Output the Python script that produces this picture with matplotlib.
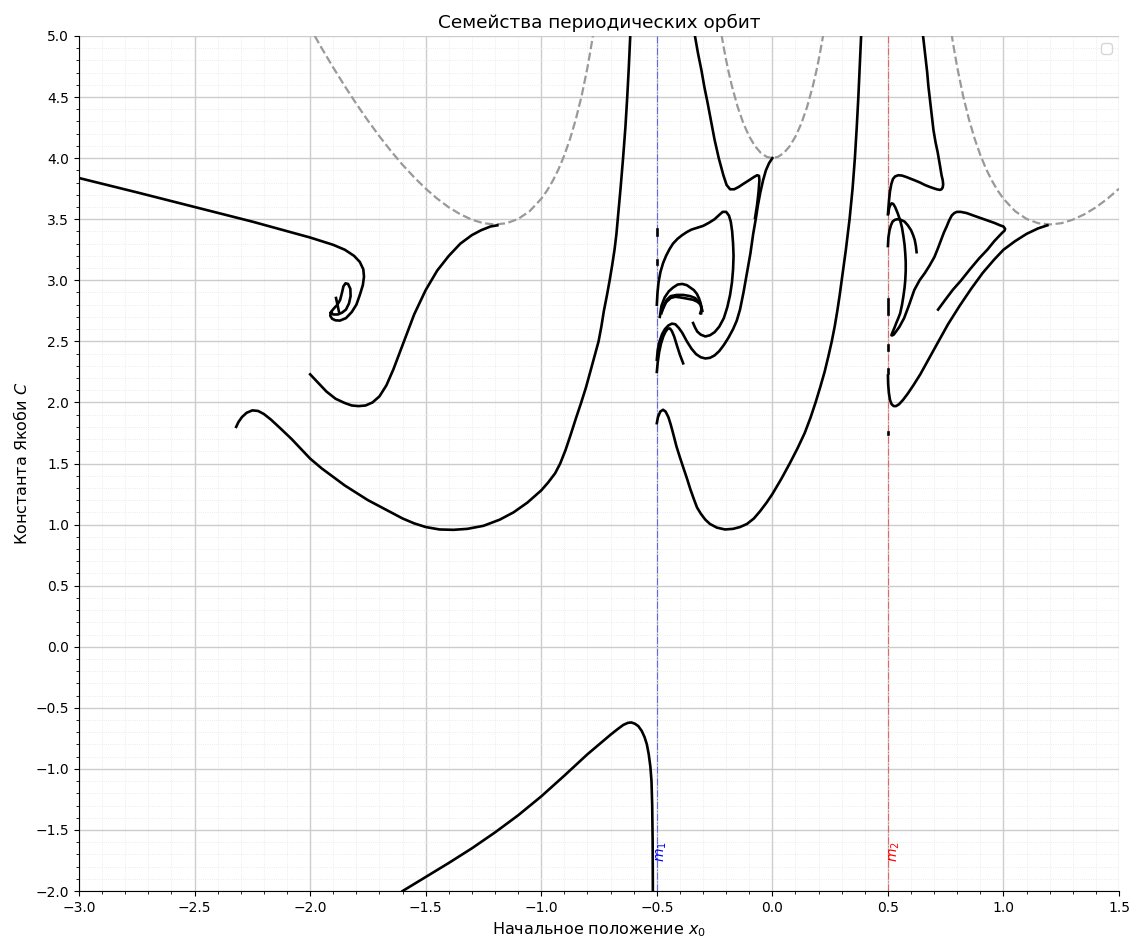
import matplotlib
matplotlib.use("Agg")
import matplotlib.pyplot as plt
from matplotlib.ticker import MultipleLocator

# zero-velocity curve branches
ZV_LEFT_X = [-1.98, -1.95, -1.9, -1.85, -1.8, -1.75, -1.7, -1.65, -1.6, -1.55, -1.5, -1.45, -1.4, -1.35,
             -1.3, -1.25, -1.2, -1.15, -1.1, -1.05, -1.0, -0.975, -0.95, -0.925, -0.9, -0.875, -0.85,
             -0.825, -0.8, -0.79, -0.78, -0.775]
ZV_LEFT_C = [5.0, 4.90, 4.741, 4.589, 4.444, 4.307, 4.178, 4.057, 3.945, 3.843, 3.75, 3.668, 3.597, 3.540,
             3.496, 3.467, 3.457, 3.467, 3.502, 3.566, 3.667, 3.734, 3.815, 3.910, 4.024, 4.160, 4.321,
             4.512, 4.742, 4.848, 4.961, 5.021]
ZV_MID_X = [-0.22, -0.21, -0.2, -0.19, -0.175, -0.15, -0.125, -0.1, -0.075, -0.05, -0.025, 0.0,
            0.025, 0.05, 0.075, 0.1, 0.125, 0.15, 0.175, 0.19, 0.2, 0.21, 0.22]
ZV_MID_C = [5.009, 4.901, 4.802, 4.711, 4.589, 4.418, 4.282, 4.177, 4.098, 4.043, 4.011, 4.0,
            4.011, 4.043, 4.098, 4.177, 4.282, 4.418, 4.589, 4.711, 4.802, 4.901, 5.009]
ZV_RIGHT_X = [0.775, 0.78, 0.79, 0.8, 0.825, 0.85, 0.875, 0.9, 0.925, 0.95, 0.975, 1.0, 1.05, 1.1, 1.15,
              1.2, 1.25, 1.3, 1.35, 1.4, 1.45, 1.5]
ZV_RIGHT_C = [5.021, 4.961, 4.848, 4.742, 4.512, 4.321, 4.160, 4.024, 3.910, 3.815, 3.734, 3.667, 3.566,
              3.502, 3.467, 3.457, 3.467, 3.496, 3.540, 3.597, 3.668, 3.75]

# orbit families: (x0 list, C list)
FAM_SPIRAL_X = [-3.0, -2.75, -2.5, -2.25, -2.0, -1.9, -1.85, -1.81, -1.785, -1.77, -1.767, -1.772, -1.785,
                -1.8, -1.82, -1.845, -1.871, -1.89, -1.905, -1.913, -1.91, -1.897, -1.882, -1.87, -1.862,
                -1.856, -1.847, -1.836, -1.826, -1.825, -1.832, -1.845, -1.862, -1.88, -1.9, -1.91]
FAM_SPIRAL_C = [3.837, 3.72, 3.60, 3.48, 3.35, 3.29, 3.25, 3.20, 3.15, 3.09, 3.03, 2.96, 2.88,
                2.80, 2.74, 2.69, 2.67, 2.672, 2.685, 2.71, 2.74, 2.77, 2.80, 2.84, 2.90,
                2.95, 2.975, 2.97, 2.93, 2.87, 2.81, 2.76, 2.735, 2.72, 2.72, 2.735]
FAM_TICK_X = [-1.888, -1.875]
FAM_TICK_C = [2.855, 2.74]

FAM_L1_X = [-2.0, -1.97, -1.93, -1.89, -1.85, -1.82, -1.79, -1.76, -1.73, -1.7, -1.67, -1.64, -1.6, -1.55,
            -1.5, -1.45, -1.4, -1.35, -1.3, -1.26, -1.22, -1.19]
FAM_L1_C = [2.23, 2.17, 2.09, 2.03, 1.995, 1.975, 1.97, 1.975, 2.0, 2.05, 2.14, 2.27, 2.47, 2.72,
            2.92, 3.08, 3.2, 3.3, 3.37, 3.41, 3.44, 3.45]

FAM_U_X = [-2.32, -2.31, -2.295, -2.275, -2.25, -2.225, -2.2, -2.17, -2.13, -2.08, -2.03, -2.0, -1.95, -1.9,
           -1.85, -1.8, -1.75, -1.7, -1.65, -1.6, -1.55, -1.5, -1.44, -1.38, -1.32, -1.25, -1.18, -1.12,
           -1.06, -1.0, -0.97, -0.94, -0.918, -0.895, -0.872, -0.85, -0.827, -0.807, -0.788, -0.77, -0.752,
           -0.74, -0.729, -0.716, -0.704, -0.693, -0.683, -0.675, -0.669, -0.657, -0.646, -0.636, -0.628,
           -0.621, -0.615, -0.612]
FAM_U_C = [1.80, 1.84, 1.88, 1.915, 1.935, 1.93, 1.905, 1.86, 1.79, 1.70, 1.6, 1.54, 1.46, 1.39,
           1.32, 1.26, 1.2, 1.15, 1.1, 1.05, 1.01, 0.98, 0.96, 0.957, 0.965, 0.99, 1.04, 1.1,
           1.18, 1.28, 1.345, 1.42, 1.5, 1.61, 1.74, 1.87, 2.0, 2.12, 2.25, 2.375, 2.5,
           2.62, 2.75, 2.875, 3.0, 3.125, 3.25, 3.375, 3.5, 3.75, 4.0, 4.25, 4.5,
           4.75, 5.0, 5.1]

FAM_LOW_X = [-1.6, -1.5, -1.4, -1.3, -1.2, -1.1, -1.0, -0.9, -0.8, -0.75, -0.7, -0.67, -0.645, -0.625,
             -0.61, -0.595, -0.58, -0.565, -0.553, -0.543, -0.535, -0.528, -0.523, -0.52, -0.518, -0.517]
FAM_LOW_C = [-2.0, -1.885, -1.77, -1.65, -1.52, -1.38, -1.225, -1.055, -0.88, -0.8, -0.72, -0.675, -0.64,
             -0.623, -0.62, -0.63, -0.65, -0.69, -0.74, -0.8, -0.88, -0.98, -1.1, -1.3, -1.6, -2.05]

FAM_F_X = [-0.5, -0.495, -0.485, -0.473, -0.462, -0.45, -0.44, -0.43, -0.415, -0.4, -0.386, -0.37, -0.355,
           -0.34, -0.326, -0.31, -0.29, -0.27, -0.24, -0.205, -0.17, -0.14, -0.11, -0.08, -0.053, -0.025,
           0.0, 0.039, 0.075, 0.109, 0.14, 0.165, 0.187, 0.207, 0.226, 0.242, 0.257, 0.27, 0.281, 0.291,
           0.30, 0.318, 0.334, 0.347, 0.357, 0.365, 0.372, 0.378, 0.384, 0.386]
FAM_F_C = [1.83, 1.88, 1.925, 1.94, 1.925, 1.88, 1.82, 1.75, 1.64, 1.55, 1.47, 1.38, 1.29,
           1.21, 1.14, 1.09, 1.04, 1.005, 0.975, 0.96, 0.965, 0.98, 1.005, 1.05, 1.11, 1.18,
           1.25, 1.375, 1.5, 1.625, 1.75, 1.875, 2.0, 2.125, 2.25, 2.375, 2.5, 2.625, 2.75, 2.875,
           3.0, 3.25, 3.5, 3.75, 4.0, 4.25, 4.5, 4.75, 5.0, 5.1]

FAM_TOP_X = [-0.337, -0.335, -0.322, -0.307, -0.294, -0.28, -0.265, -0.25, -0.232, -0.212, -0.198, -0.183,
             -0.165, -0.145, -0.125, -0.1, -0.08, -0.066, -0.058, -0.056, -0.06, -0.066, -0.075]
FAM_TOP_C = [5.1, 5.0, 4.86, 4.72, 4.58, 4.45, 4.3, 4.15, 4.0, 3.86, 3.78, 3.745,
             3.745, 3.765, 3.79, 3.82, 3.845, 3.86, 3.855, 3.82, 3.72, 3.62, 3.51]

FAM_A_X = [-0.5, -0.497, -0.492, -0.484, -0.473, -0.46, -0.445, -0.43, -0.41, -0.39, -0.37, -0.35, -0.325,
           -0.3, -0.275, -0.25, -0.23, -0.215, -0.2, -0.188, -0.18, -0.174, -0.17, -0.168, -0.17, -0.175,
           -0.183, -0.195, -0.21, -0.23, -0.25, -0.27, -0.29, -0.31, -0.325, -0.335, -0.343]
FAM_A_C = [2.8, 2.9, 2.99, 3.07, 3.14, 3.2, 3.255, 3.3, 3.34, 3.37, 3.395, 3.415, 3.43,
           3.445, 3.47, 3.5, 3.535, 3.56, 3.56, 3.53, 3.48, 3.4, 3.3, 3.2, 3.09, 2.98,
           2.88, 2.78, 2.69, 2.62, 2.575, 2.55, 2.54, 2.555, 2.58, 2.615, 2.65]

FAM_B_X = [-0.5, -0.496, -0.488, -0.477, -0.465, -0.45, -0.435, -0.42, -0.405, -0.39, -0.37, -0.35, -0.33,
           -0.31, -0.29, -0.27, -0.25, -0.23, -0.21, -0.19, -0.17, -0.154, -0.14, -0.125, -0.11, -0.095,
           -0.083, -0.072, -0.062, -0.052, -0.04, -0.028, -0.014, 0.0]
FAM_B_C = [2.35, 2.43, 2.5, 2.56, 2.6, 2.63, 2.645, 2.64, 2.61, 2.57, 2.5, 2.44, 2.395,
           2.37, 2.36, 2.365, 2.385, 2.42, 2.47, 2.53, 2.6, 2.67, 2.76, 2.9, 3.06, 3.22,
           3.38, 3.5, 3.62, 3.72, 3.82, 3.9, 3.96, 4.0]

FAM_C_X = [-0.5, -0.496, -0.49, -0.482, -0.472, -0.462, -0.452, -0.443, -0.435, -0.425, -0.412, -0.4, -0.386]
FAM_C_C = [2.25, 2.33, 2.41, 2.48, 2.54, 2.58, 2.605, 2.605, 2.585, 2.54, 2.46, 2.39, 2.32]

ARCH1_X = [-0.487, -0.48, -0.466, -0.448, -0.43, -0.41, -0.39, -0.37, -0.355, -0.34, -0.327, -0.317, -0.31,
           -0.307, -0.312]
ARCH1_C = [2.70, 2.79, 2.86, 2.91, 2.94, 2.965, 2.97, 2.96, 2.94, 2.92, 2.89, 2.85, 2.81, 2.76, 2.73]
ARCH2_X = [-0.48, -0.47, -0.457, -0.44, -0.414, -0.385, -0.355, -0.335, -0.32, -0.31, -0.305, -0.308]
ARCH2_C = [2.73, 2.79, 2.84, 2.87, 2.88, 2.88, 2.87, 2.855, 2.83, 2.8, 2.76, 2.73]
ARCH3_X = [-0.475, -0.46, -0.44, -0.42, -0.40, -0.37, -0.343, -0.325, -0.31, -0.303]
ARCH3_C = [2.76, 2.82, 2.855, 2.865, 2.86, 2.85, 2.84, 2.825, 2.80, 2.75]

FAM_G_X = [0.652, 0.658, 0.664, 0.67, 0.675, 0.686, 0.697, 0.706, 0.715, 0.726, 0.732, 0.737, 0.739, 0.737,
           0.732, 0.725, 0.711, 0.695, 0.68, 0.66, 0.639, 0.62, 0.6, 0.58, 0.561, 0.545, 0.531, 0.522,
           0.515, 0.509, 0.505, 0.502, 0.5]
FAM_G_C = [5.0, 4.9, 4.8, 4.7, 4.59, 4.41, 4.23, 4.13, 4.05, 3.93, 3.86, 3.82, 3.785, 3.76,
           3.745, 3.74, 3.745, 3.755, 3.765, 3.78, 3.80, 3.815, 3.83, 3.845, 3.857, 3.86, 3.85, 3.83,
           3.79, 3.73, 3.66, 3.59, 3.54]

FAM_H_X = [0.502, 0.505, 0.51, 0.516, 0.523, 0.531, 0.542, 0.553, 0.561, 0.567, 0.572, 0.575, 0.577, 0.577,
           0.575, 0.572, 0.567, 0.561, 0.553, 0.545, 0.536, 0.528, 0.521, 0.517, 0.515, 0.518, 0.525,
           0.535, 0.55, 0.57, 0.59, 0.614, 0.637, 0.66, 0.68, 0.701, 0.716, 0.73, 0.742, 0.754, 0.765,
           0.776, 0.787, 0.798, 0.815, 0.841, 0.87, 0.9, 0.93, 0.96, 0.985, 1.0, 1.007, 1.004, 0.995,
           0.985, 0.96, 0.93, 0.895, 0.855, 0.817, 0.78, 0.748, 0.717]
FAM_H_C = [3.55, 3.59, 3.615, 3.63, 3.625, 3.60, 3.55, 3.49, 3.43, 3.36, 3.29, 3.22, 3.15, 3.08,
           3.0, 2.94, 2.87, 2.8, 2.73, 2.69, 2.65, 2.61, 2.58, 2.56, 2.55, 2.548, 2.555,
           2.58, 2.62, 2.69, 2.79, 2.92, 3.0, 3.06, 3.12, 3.19, 3.26, 3.33, 3.39, 3.44, 3.49,
           3.53, 3.55, 3.56, 3.56, 3.55, 3.53, 3.51, 3.49, 3.47, 3.45, 3.44, 3.42, 3.405, 3.39,
           3.37, 3.32, 3.25, 3.18, 3.09, 3.0, 2.92, 2.84, 2.76]

FAM_I_X = [0.5, 0.502, 0.507, 0.513, 0.52, 0.53, 0.542, 0.556, 0.572, 0.586, 0.60, 0.609, 0.616, 0.621, 0.624]
FAM_I_C = [3.28, 3.35, 3.41, 3.45, 3.48, 3.495, 3.50, 3.495, 3.48, 3.45, 3.41, 3.37, 3.33, 3.28, 3.23]

FAM_J_X = [0.5, 0.501, 0.504, 0.509, 0.516, 0.525, 0.535, 0.548, 0.565, 0.585, 0.61, 0.64, 0.675, 0.713,
           0.76, 0.81, 0.86, 0.91, 0.96, 1.0, 1.05, 1.1, 1.15, 1.19]
FAM_J_C = [2.22, 2.15, 2.08, 2.02, 1.985, 1.97, 1.97, 1.985, 2.02, 2.07, 2.14, 2.23, 2.35, 2.48,
           2.64, 2.79, 2.93, 3.06, 3.17, 3.25, 3.32, 3.38, 3.425, 3.45]

# short fragments sitting on the primaries
STUB_X = [-0.5, -0.5, 0.5, 0.5, 0.5, 0.5]
STUB_C0 = [3.37, 3.13, 2.72, 2.43, 2.24, 1.74]
STUB_C1 = [3.42, 3.17, 2.85, 2.47, 2.27, 1.76]

families = [
    (FAM_SPIRAL_X, FAM_SPIRAL_C), (FAM_TICK_X, FAM_TICK_C), (FAM_L1_X, FAM_L1_C),
    (FAM_U_X, FAM_U_C), (FAM_LOW_X, FAM_LOW_C), (FAM_F_X, FAM_F_C), (FAM_TOP_X, FAM_TOP_C),
    (FAM_A_X, FAM_A_C), (FAM_B_X, FAM_B_C), (FAM_C_X, FAM_C_C),
    (ARCH1_X, ARCH1_C), (ARCH2_X, ARCH2_C), (ARCH3_X, ARCH3_C),
    (FAM_G_X, FAM_G_C), (FAM_H_X, FAM_H_C), (FAM_I_X, FAM_I_C), (FAM_J_X, FAM_J_C),
]

fig = plt.figure(figsize=(11.42, 9.44), dpi=100)
ax = fig.add_axes([0.0692, 0.0561, 0.9107, 0.9058])

for zx, zc in [(ZV_LEFT_X, ZV_LEFT_C), (ZV_MID_X, ZV_MID_C), (ZV_RIGHT_X, ZV_RIGHT_C)]:
    ax.plot(zx, zc, color="#999999", linestyle="--", linewidth=1.6, zorder=2)

for fx, fc in families:
    ax.plot(fx, fc, color="black", linewidth=1.9, zorder=3, solid_joinstyle="round")

for sx, c0, c1 in zip(STUB_X, STUB_C0, STUB_C1):
    ax.plot([sx, sx], [c0, c1], color="black", linewidth=1.9, zorder=3)

ax.axvline(-0.5, color="blue", linestyle="-.", linewidth=0.8, alpha=0.5, zorder=1)
ax.axvline(0.5, color="red", linestyle="-.", linewidth=0.8, alpha=0.5, zorder=1)
ax.text(-0.477, -1.68, "$m_1$", color="blue", rotation=90, fontsize=10, ha="center", va="center")
ax.text(0.53, -1.68, "$m_2$", color="red", rotation=90, fontsize=10, ha="center", va="center")

ax.set_xlim(-3, 1.5)
ax.set_ylim(-2, 5)
ax.xaxis.set_major_locator(MultipleLocator(0.5))
ax.yaxis.set_major_locator(MultipleLocator(0.5))
ax.xaxis.set_minor_locator(MultipleLocator(0.1))
ax.yaxis.set_minor_locator(MultipleLocator(0.1))
ax.grid(which="major", color="#cccccc", linewidth=1.0)
ax.grid(which="minor", color="#e6e6e6", linestyle=":", linewidth=0.6)
ax.set_axisbelow(True)
ax.spines["top"].set_visible(False)
ax.spines["right"].set_visible(False)

ax.set_title("Семейства периодических орбит", fontsize=13.3)
ax.set_xlabel("Начальное положение $x_0$", fontsize=11.5)
ax.set_ylabel("Константа Якоби $C$", fontsize=11.5)
ax.legend(handles=[], loc="upper right")

fig.savefig("out.png", dpi=100)
